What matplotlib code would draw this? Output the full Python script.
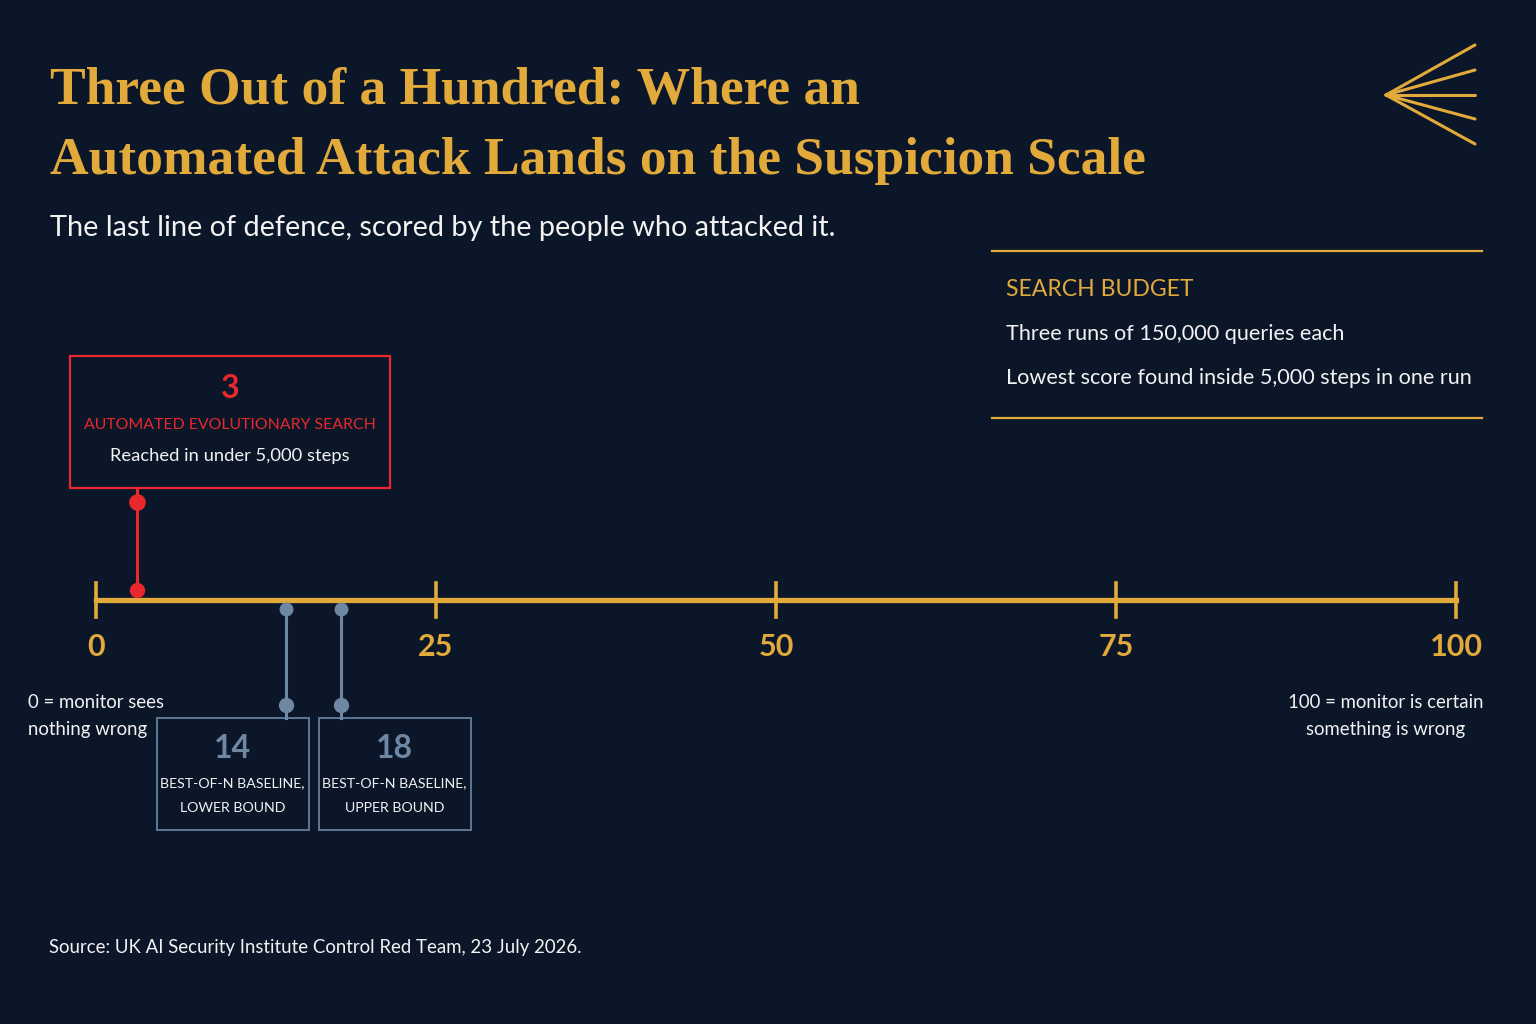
import matplotlib.pyplot as plt
from matplotlib.patches import Rectangle

# --- data ---
scale_ticks = [0, 25, 50, 75, 100]
auto_value = 3
auto_title = 'AUTOMATED EVOLUTIONARY SEARCH'
auto_note = 'Reached in under 5,000 steps'
baseline_values = [14, 18]
baseline_labels = [['BEST-OF-N BASELINE,', 'LOWER BOUND'],
                   ['BEST-OF-N BASELINE,', 'UPPER BOUND']]
budget_lines = ['Three runs of 150,000 queries each',
                'Lowest score found inside 5,000 steps in one run']
low_note = ['0 = monitor sees', 'nothing wrong']
high_note = ['100 = monitor is certain', 'something is wrong']

BG = '#0b1629'
GOLD = '#e2a93b'
RED = '#e8282c'
SLATE = '#6e87a3'
WHITE = '#f2f2f2'
SANS = ['Lato', 'DejaVu Sans']

fig = plt.figure(figsize=(15.36, 10.24), dpi=100, facecolor=BG)

# pixel-space layer for titles / panels
deco = fig.add_axes([0, 0, 1, 1])
deco.set_xlim(0, 1536)
deco.set_ylim(1024, 0)
deco.axis('off')

# data layer for the suspicion scale (0 -> x=96px, 100 -> x=1456px)
ax = fig.add_axes([0, 0, 1, 1])
k = (1456 - 96) / 100
ax.set_xlim(-96 / k, (1536 - 96) / k)
ax.set_ylim(1024, 0)
ax.axis('off')
ax.patch.set_alpha(0)

def to_px(v):
    return ax.transData.transform((v, 0))[0]

# --- title block ---
deco.text(50, 104, 'Three Out of a Hundred: Where an', color=GOLD, fontsize=38.5,
          fontweight='bold', family='Liberation Serif', va='baseline')
deco.text(50, 174, 'Automated Attack Lands on the Suspicion Scale', color=GOLD, fontsize=38.5,
          fontweight='bold', family='Liberation Serif', va='baseline')
deco.text(50, 228, 'The last line of defence, scored by the people who attacked it.',
          color=WHITE, fontsize=20.8, family=SANS, va='center')

# fan icon
for ey in [45, 70, 95, 119, 144]:
    deco.plot([1386, 1475], [95, ey], color=GOLD, lw=2.2, solid_capstyle='round')

# --- search budget panel ---
deco.plot([992, 1482], [251, 251], color=GOLD, lw=1.6)
deco.plot([992, 1482], [418, 418], color=GOLD, lw=1.6)
deco.text(1006, 290, 'SEARCH BUDGET', color=GOLD, fontsize=16.6, family=SANS, va='center')
for i, line in enumerate(budget_lines):
    deco.text(1006, 334 + 44 * i, line, color=WHITE, fontsize=15.6, family=SANS, va='center')

# --- scale ---
axis_y = 600
ax.plot([scale_ticks[0], scale_ticks[-1]], [axis_y, axis_y], color=GOLD, lw=3.8, zorder=2)
for t in scale_ticks:
    ax.plot([t, t], [583, 617], color=GOLD, lw=2.6, zorder=2)
    ax.text(t, 647, str(t), color=GOLD, fontsize=22, fontweight='bold', family=SANS,
            ha='center', va='center')

for i, line in enumerate(low_note):
    deco.text(28, 702 + 27 * i, line, color=WHITE, fontsize=13.4, family=SANS, va='center')
for i, line in enumerate(high_note):
    deco.text(1386, 702 + 27 * i, line, color=WHITE, fontsize=13.4, family=SANS,
              va='center', ha='center')

# automated search marker
ax.plot([auto_value, auto_value], [488, 590], color=RED, lw=2.2, zorder=3)
ax.plot([auto_value], [502], 'o', color=RED, ms=11, zorder=4)
ax.plot([auto_value], [590], 'o', color=RED, ms=10, zorder=4)
deco.add_patch(Rectangle((70, 356), 320, 132, fill=True, facecolor=BG, edgecolor=RED, lw=1.6))
deco.text(230, 388, str(auto_value), color=RED, fontsize=23, family=SANS, fontweight='bold',
          ha='center', va='center')
deco.text(230, 425, auto_title, color=RED, fontsize=11.4, family=SANS, ha='center', va='center')
deco.text(230, 456, auto_note, color=WHITE, fontsize=13.2, family=SANS, ha='center', va='center')

# baseline markers with boxes
box_w, gap = 152, 10
mid = (to_px(baseline_values[0]) + to_px(baseline_values[1])) / 2
box_lefts = [mid - gap / 2 - box_w, mid + gap / 2]
for v, lab, bx in zip(baseline_values, baseline_labels, box_lefts):
    ax.plot([v, v], [609, 718], color=SLATE, lw=2.2, zorder=3)
    ax.plot([v], [609], 'o', color=SLATE, ms=9, zorder=4)
    ax.plot([v], [705], 'o', color=SLATE, ms=10, zorder=4)
    deco.add_patch(Rectangle((bx, 718), box_w, 112, fill=False, edgecolor='#5f7893', lw=1.4))
    cx = bx + box_w / 2
    deco.text(cx, 748, str(v), color=SLATE, fontsize=23, family=SANS, fontweight='bold',
              ha='center', va='center')
    for j, line in enumerate(lab):
        deco.text(cx, 783 + 25 * j, line, color=WHITE, fontsize=10.2, family=SANS,
                  ha='center', va='center')

deco.text(49, 948, 'Source: UK AI Security Institute Control Red Team, 23 July 2026.',
          color=WHITE, fontsize=13.4, family=SANS, va='center')

fig.savefig('out.png', dpi=100, facecolor=BG)
